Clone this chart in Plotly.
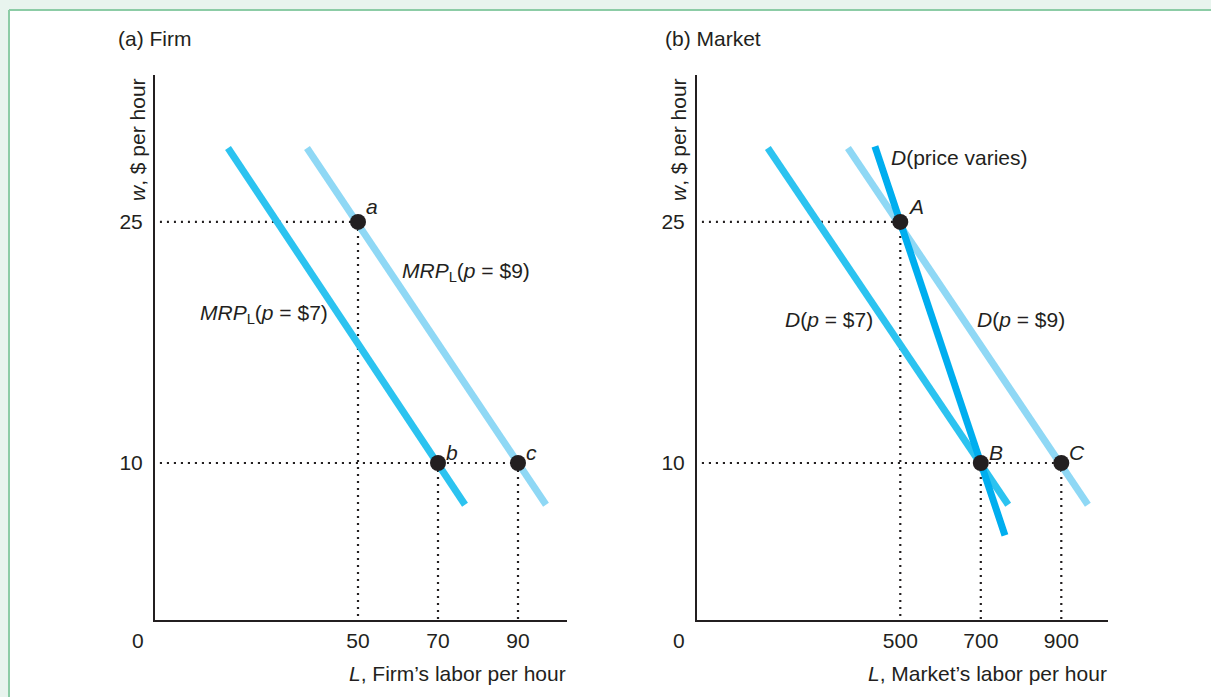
import plotly.graph_objects as go

W, H = 1211, 697

# ---------------- data ----------------
# Panel (a) Firm
firm_L_mrp7 = [17.5, 76.75]
firm_w_mrp7 = [29.6, 7.4]
firm_L_mrp9 = [37.25, 97.0]
firm_w_mrp9 = [29.6, 7.4]
firm_pts_L = [50, 70, 90]
firm_pts_w = [25, 10, 10]
firm_pts_lbl = ["a", "b", "c"]
firm_xticks = [50, 70, 90]
wage_ticks = [10, 25]

# Panel (b) Market
mkt_L_d7 = [171, 768]
mkt_w_d7 = [29.6, 7.4]
mkt_L_d9 = [370, 966]
mkt_w_d9 = [29.6, 7.4]
mkt_L_dv = [437, 760]
mkt_w_dv = [29.7, 5.5]
mkt_pts_L = [500, 700, 900]
mkt_pts_w = [25, 10, 10]
mkt_pts_lbl = ["A", "B", "C"]
mkt_xticks = [500, 700, 900]

# axis ranges
firm_xr = [-0.75, 102.25]
mkt_xr = [-5, 1016]
yr = [0.23, 34.14]

C_MID = "#2cc3f0"
C_LIGHT = "#8fd8f5"
C_DARK = "#00aeef"
INK = "#231f20"
FONT = "Liberation Sans, Arial, sans-serif"
FS = 21

fig = go.Figure()


def add_panel(xa, ya, L_lo, w_lo, L_hi, w_hi, L_dv, w_dv, pts_L, pts_w, pts_lbl, xr):
    x_start = xr[0] + 0.012 * (xr[1] - xr[0])
    # dotted guide lines
    for L, w in zip(pts_L, pts_w):
        fig.add_trace(go.Scatter(x=[x_start, L], y=[w, w], mode="lines",
                                 line=dict(color=INK, width=2.2, dash="2px,5px"),
                                 xaxis=xa, yaxis=ya, hoverinfo="skip", showlegend=False))
        fig.add_trace(go.Scatter(x=[L, L], y=[w, yr[0]], mode="lines",
                                 line=dict(color=INK, width=2.2, dash="2px,5px"),
                                 xaxis=xa, yaxis=ya, hoverinfo="skip", showlegend=False))
    fig.add_trace(go.Scatter(x=L_hi, y=w_hi, mode="lines",
                             line=dict(color=C_LIGHT, width=7),
                             xaxis=xa, yaxis=ya, showlegend=False))
    fig.add_trace(go.Scatter(x=L_lo, y=w_lo, mode="lines",
                             line=dict(color=C_MID, width=7),
                             xaxis=xa, yaxis=ya, showlegend=False))
    if L_dv is not None:
        fig.add_trace(go.Scatter(x=L_dv, y=w_dv, mode="lines",
                                 line=dict(color=C_DARK, width=7),
                                 xaxis=xa, yaxis=ya, showlegend=False))
    fig.add_trace(go.Scatter(x=pts_L, y=pts_w, mode="markers",
                             marker=dict(color=INK, size=16),
                             xaxis=xa, yaxis=ya, showlegend=False))
    for L, w, t in zip(pts_L, pts_w, pts_lbl):
        fig.add_annotation(x=L, y=w, xref=xa, yref=ya, text=f"<i>{t}</i>",
                           showarrow=False, xanchor="left", yanchor="middle",
                           xshift=6, yshift=15 if w > 20 else 10,
                           font=dict(family=FONT, size=FS, color=INK))


add_panel("x", "y", firm_L_mrp7, firm_w_mrp7, firm_L_mrp9, firm_w_mrp9,
          None, None, firm_pts_L, firm_pts_w, firm_pts_lbl, firm_xr)
add_panel("x2", "y2", mkt_L_d7, mkt_w_d7, mkt_L_d9, mkt_w_d9,
          mkt_L_dv, mkt_w_dv, mkt_pts_L, mkt_pts_w, mkt_pts_lbl, mkt_xr)

# curve labels
curve_labels = [
    ("x", "y", 60.5, 21.9, "left", "<i>MRP</i><sub>L</sub>(<i>p</i> = $9)"),
    ("x", "y", 43.0, 19.3, "right", "<i>MRP</i><sub>L</sub>(<i>p</i> = $7)"),
    ("x2", "y2", 472, 29.0, "left", "<i>D</i>(price varies)"),
    ("x2", "y2", 437, 18.9, "right", "<i>D</i>(<i>p</i> = $7)"),
    ("x2", "y2", 686, 18.9, "left", "<i>D</i>(<i>p</i> = $9)"),
]
for xa, ya, x, y, anc, t in curve_labels:
    fig.add_annotation(x=x, y=y, xref=xa, yref=ya, text=t, showarrow=False,
                       xanchor=anc, yanchor="middle",
                       font=dict(family=FONT, size=FS, color=INK))


def px(x):
    return x / W


def py(y):
    return 1 - y / H


# paper-level texts
paper_texts = [
    (116, 38, "left", "middle", 0, "(a) Firm"),
    (663, 38, "left", "middle", 0, "(b) Market"),
    (137, 140, "center", "middle", -90, "<i>w</i>, $ per hour"),
    (678, 140, "center", "middle", -90, "<i>w</i>, $ per hour"),
    (568, 673, "right", "middle", 0, "<i>L</i>, Firm\u2019s labor per hour"),
    (1109, 673, "right", "middle", 0, "<i>L</i>, Market\u2019s labor per hour"),
    (138, 640, "center", "middle", 0, "0"),
    (679, 640, "center", "middle", 0, "0"),
]
for x, y, xa, ya, ang, t in paper_texts:
    fig.add_annotation(x=px(x), y=py(y), xref="paper", yref="paper", text=t,
                       showarrow=False, xanchor=xa, yanchor=ya, textangle=ang,
                       font=dict(family=FONT, size=FS, color=INK))

# frame decoration
fig.add_shape(type="rect", xref="paper", yref="paper", x0=0, x1=1, y0=py(10), y1=1,
              fillcolor="#e8f4ee", line_width=0, layer="below")
fig.add_shape(type="rect", xref="paper", yref="paper", x0=0, x1=px(9), y0=0, y1=1,
              fillcolor="#e8f4ee", line_width=0, layer="below")
fig.add_shape(type="line", xref="paper", yref="paper", x0=px(9), x1=1, y0=py(10), y1=py(10),
              line=dict(color="#8ccca6", width=2))
fig.add_shape(type="line", xref="paper", yref="paper", x0=px(9), x1=px(9), y0=0, y1=py(10),
              line=dict(color="#8ccca6", width=2))

axis_common = dict(showgrid=False, zeroline=False, showline=True, linecolor=INK,
                   linewidth=2, ticks="", tickfont=dict(family=FONT, size=FS, color=INK),
                   fixedrange=True)

fig.update_layout(
    width=W, height=H,
    margin=dict(l=0, r=0, t=0, b=0),
    paper_bgcolor="white", plot_bgcolor="rgba(0,0,0,0)",
    showlegend=False,
    xaxis=dict(domain=[px(155), px(567)], range=firm_xr, tickvals=firm_xticks,
               anchor="y", ticklabelstandoff=1, **axis_common),
    yaxis=dict(domain=[py(620), py(75)], range=yr, tickvals=wage_ticks,
               anchor="x", ticklabelstandoff=6, **axis_common),
    xaxis2=dict(domain=[px(697), px(1108)], range=mkt_xr, tickvals=mkt_xticks,
                anchor="y2", ticklabelstandoff=1, **axis_common),
    yaxis2=dict(domain=[py(620), py(75)], range=yr, tickvals=wage_ticks,
                anchor="x2", ticklabelstandoff=6, **axis_common),
)

fig.write_html("out.html", config={"displayModeBar": False},
               post_script="document.body.style.margin='0';")
